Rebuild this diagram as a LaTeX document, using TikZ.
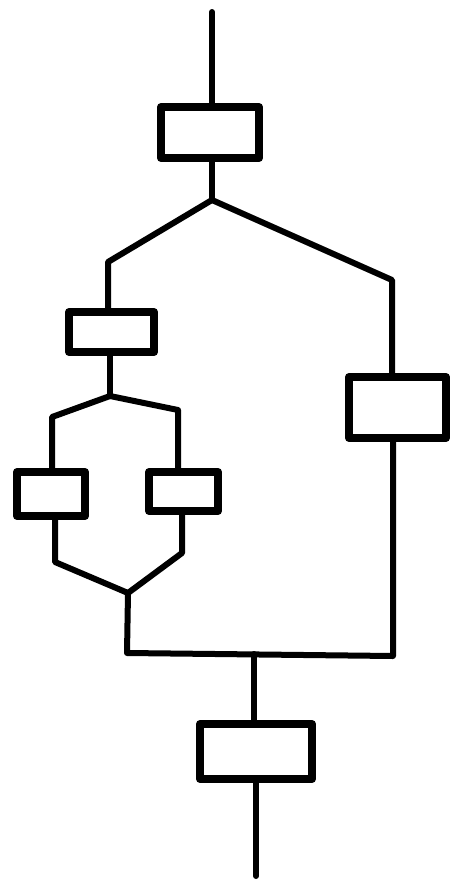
\documentclass[tikz,border=0pt]{standalone}
\begin{document}
\begin{tikzpicture}[x=1pt,y=-1pt,
  blk/.style={draw,line width=8pt,rectangle,inner sep=0pt,line join=round},
  wire/.style={line width=6pt,line cap=round,line join=round}]
\useasboundingbox (0,0) rectangle (455,884);
% boxes
\node[blk,minimum width=98pt,minimum height=51pt] (b1) at (210,132.5) {};
\node[blk,minimum width=85pt,minimum height=40pt] (b2) at (111.5,332) {};
\node[blk,minimum width=97pt,minimum height=61pt] (b3) at (397.5,407.5) {};
\node[blk,minimum width=68pt,minimum height=44pt] (b4) at (51,494) {};
\node[blk,minimum width=69pt,minimum height=39pt] (b5) at (183.5,491.5) {};
\node[blk,minimum width=112pt,minimum height=55pt] (b6) at (256,751.5) {};
% junction / bend points
\coordinate (t0) at (212,12);
\coordinate (j1) at (212,200);
\coordinate (l1) at (108,262);
\coordinate (r1) at (392,280);
\coordinate (j2) at (110,396);
\coordinate (l2) at (52,417);
\coordinate (r2) at (178,410);
\coordinate (l3) at (55,562);
\coordinate (r3) at (182,553);
\coordinate (j3) at (128,593);
\coordinate (c1) at (127,653);
\coordinate (c2) at (393,656);
\coordinate (j4) at (254,654);
\coordinate (t1) at (256,876);
% connectors
\draw[wire] (t0) -- (t0 |- b1.north);
\draw[wire] (j1 |- b1.south) -- (j1);
\draw[wire] (j1) -- (l1) -- (l1 |- b2.north);
\draw[wire] (j1) -- (r1) -- (r1 |- b3.north);
\draw[wire] (j2 |- b2.south) -- (j2);
\draw[wire] (j2) -- (l2) -- (l2 |- b4.north);
\draw[wire] (j2) -- (r2) -- (r2 |- b5.north);
\draw[wire] (l3 |- b4.south) -- (l3) -- (j3);
\draw[wire] (r3 |- b5.south) -- (r3) -- (j3);
\draw[wire] (j3) -- (c1) -- (c2) -- (c2 |- b3.south);
\draw[wire] (j4) -- (j4 |- b6.north);
\draw[wire] (b6.south) -- (t1);
\end{tikzpicture}
\end{document}
